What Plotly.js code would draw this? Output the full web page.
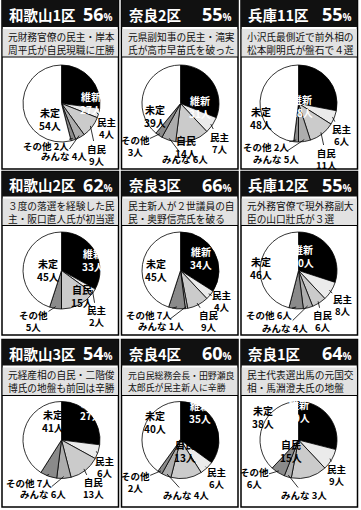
<!DOCTYPE html>
<html><head><meta charset="utf-8">
<script src="https://cdn.plot.ly/plotly-3.0.1.min.js"></script>
<style>html,body{margin:0;padding:0;background:#fff}#chart{width:361px;height:510px}</style>
</head><body><div id="chart"></div>
<script>
// ---- data ----
const districts = ['和歌山1区','奈良2区','兵庫11区','和歌山2区','奈良3区','兵庫12区','和歌山3区','奈良4区','奈良1区'];
const turnout = [56,55,55,62,66,55,54,60,64];
const noteLine1 = ['元財務官僚の民主・岸本','元県副知事の民主・滝実','小沢氏最側近で前外相の','３度の落選を経験した民','民主新人が２世議員の自','元外務官僚で現外務副大','元経産相の自民・二階俊','元自民総務会長・田野瀬良','民主代表選出馬の元国交'];
const noteLine2 = ['周平氏が自民現職に圧勝','氏が高市早苗氏を破った','松本剛明氏が盤石で４選','主・阪口直人氏が初当選','民・奥野信亮氏を破る','臣の山口壯氏が３選','博氏の地盤も前回は辛勝','太郎氏が民主新人に辛勝','相・馬淵澄夫氏の地盤'];
const parties = ['維新','民主','自民','みんな','その他','未定'];
const ishin  = [27,31,28,33,34,30,27,35,29];
const minshu = [4,7,6,2,4,8,6,6,9];
const jimin  = [9,14,11,15,9,6,13,13,15];
const minna  = [4,6,5,0,1,4,6,4,3];
const sonota = [2,3,2,5,7,6,7,2,6];
const mitei  = [54,39,48,45,45,46,41,40,38];
const series = [ishin, minshu, jimin, minna, sonota, mitei];

// ---- layout / style ----
const W = 361, H = 510;
const FONT = '"Noto Sans CJK JP", "Noto Sans", sans-serif';
const colLeft = [2, 121.5, 241], colWidth = 116.5;
const rowTop = [0, 171.5, 339.5], rowBottom = [169, 335, 507];
const barBottom = [27, 196.5, 365.5], noteBottom = [57, 225.5, 395.5];
const pieCX = [61.5, 180.5, 298.5], pieCY = [103.5, 270.5, 440], R = 38.5;
const sliceColors = ['#000000', '#ebebeb', '#cbcbcb', '#adadad', '#8a8a8a', '#ffffff'];
// label placement per panel, per party: [dx, dy, kind]  kind: w=inside white, i=inside black, o1/o2 = outside 1/2 lines
const labelPlace = [
  [[16.5,-17,'w'],[45,24,'o2'],[35,51,'o2'],[2.5,53,'o1'],[-16,42,'o1'],[-24.5,0,'i']],
  [[19.5,-13,'w'],[39.5,39,'o2'],[6,27,'i'],[4.5,55.7,'o1'],[-45.5,42,'o2'],[-25.5,-3,'i']],
  [[16.5,-13.4,'w'],[43,31.6,'o2'],[28,55,'o2'],[-22.7,55,'o1'],[-32.7,44,'o1'],[-25,-1.7,'i']],
  [[18.7,-10.8,'w'],[35.4,45.8,'o2'],[7,25.8,'i'],null,[-28,50.8,'o2'],[-26.3,-0.8,'i']],
  [[20,-12.5,'w'],[41.7,30.8,'o2'],[28.3,50.8,'o2'],[-20,55.8,'o1'],[-31.7,44,'o1'],[-25,-0.8,'i']],
  [[17.5,-14.2,'w'],[44.2,34.2,'o2'],[24.2,50.8,'o2'],[-13.5,57.5,'o1'],[-30,44,'o1'],[-24.2,-2.5,'i']],
  [[16.6,-15,'w'],[43.3,26.7,'o2'],[31.6,48.4,'o2'],[-18.7,54,'o1'],[-32.7,43,'o1'],[-21.7,-3.3,'i']],
  [[19.7,-11.7,'w'],[36.4,38.3,'o2'],[4.7,26.6,'i'],[5.5,55,'o1'],[-45.3,41.6,'o2'],[-25.3,-1.7,'i']],
  [[13.8,-13.4,'w'],[38.8,35,'o2'],[5.5,26.6,'i'],[5.5,55,'o1'],[-44.5,38.3,'o2'],[-22.8,-6.7,'i']]
];

const px = x => x / W, py = y => 1 - y / H;
const traces = [], shapes = [], annotations = [];

districts.forEach((name, k) => {
  const c = k % 3, r = Math.floor(k / 3);
  const L = colLeft[c], Rt = colLeft[c] + colWidth;
  const T = rowTop[r], B = rowBottom[r];
  shapes.push({type:'rect', xref:'paper', yref:'paper', layer:'below', x0:px(L), x1:px(Rt), y0:py(B), y1:py(T), line:{color:'#000', width:1.5}, fillcolor:'#fff'});
  shapes.push({type:'rect', xref:'paper', yref:'paper', layer:'below', x0:px(L), x1:px(Rt), y0:py(barBottom[r]), y1:py(T), line:{width:0}, fillcolor:'#111'});
  shapes.push({type:'rect', xref:'paper', yref:'paper', layer:'below', x0:px(L+0.75), x1:px(Rt-0.75), y0:py(noteBottom[r]), y1:py(barBottom[r]+2), line:{width:0}, fillcolor:'#e2e2e2'});
  shapes.push({type:'line', xref:'paper', yref:'paper', layer:'below', x0:px(L), x1:px(Rt), y0:py(noteBottom[r]), y1:py(noteBottom[r]), line:{color:'#000', width:1.2}});
  const by = (T + barBottom[r]) / 2 + 0.5;
  annotations.push({xref:'paper', yref:'paper', x:px(L+5), y:py(by), xanchor:'left', yanchor:'middle', showarrow:false,
    text:'<b>'+name+'</b>', font:{family:FONT, size:14.5, color:'#fff'}});
  annotations.push({xref:'paper', yref:'paper', x:px(Rt-4), y:py(by), xanchor:'right', yanchor:'middle', showarrow:false,
    text:'<b>'+turnout[k]+'<span style="font-size:10px">%</span></b>', font:{family:'"Open Sans", sans-serif', size:18, color:'#fff'}});
  annotations.push({xref:'paper', yref:'paper', x:px(L+4), y:py((barBottom[r]+2+noteBottom[r])/2), xanchor:'left', yanchor:'middle', align:'left', showarrow:false,
    text:noteLine1[k]+'<br>'+noteLine2[k], font:{family:FONT, size:noteLine1[k].length>11?8.9:9.7, color:'#111'}});
  const cx = pieCX[c], cy = pieCY[r];
  const vals = series.map(s => s[k]);
  traces.push({type:'pie', values:vals, labels:parties, sort:false, direction:'clockwise', rotation:0,
    marker:{colors:sliceColors, line:{color:'#000', width:0.8}}, textinfo:'none', textposition:'none', hoverinfo:'skip', showlegend:false,
    domain:{x:[px(cx-R), px(cx+R)], y:[py(cy+R), py(cy-R)]}});
  const total = vals.reduce((a,b)=>a+b,0);
  let cum = 0;
  vals.forEach((v, j) => {
    const mid = 2*Math.PI*(cum + v/2)/total; cum += v;
    const p = labelPlace[k][j];
    if (!p || v === 0) return;
    const [dx, dy, kind] = p;
    const lx = cx + dx, ly = cy + dy;
    const two = kind !== 'o1';
    const text = parties[j] + (two ? '<br>' : ' ') + v + '人';
    if (kind === 'w' || kind === 'i') {
      annotations.push({xref:'paper', yref:'paper', x:px(lx), y:py(ly), showarrow:false,
        text:'<b>'+text+'</b>', font:{family:FONT, size:10, color: kind==='w' ? '#fff' : '#000'}});
    } else {
      const rx = cx + R*0.95*Math.sin(mid), ry = cy - R*0.95*Math.cos(mid);
      annotations.push({xref:'paper', yref:'paper', x:px(rx), y:py(ry), ax:lx-rx, ay:ly-ry, showarrow:true,
        arrowhead:0, arrowwidth:0.8, arrowcolor:'#000', standoff:0, borderpad:0,
        text:'<b>'+text+'</b>', font:{family:FONT, size:9.5, color:'#000'}});
    }
  });
});

Plotly.newPlot('chart', traces, {
  width:W, height:H, margin:{l:0,r:0,t:0,b:0}, paper_bgcolor:'#fff', showlegend:false,
  shapes, annotations
}, {staticPlot:true, displayModeBar:false});
</script>
</body></html>
